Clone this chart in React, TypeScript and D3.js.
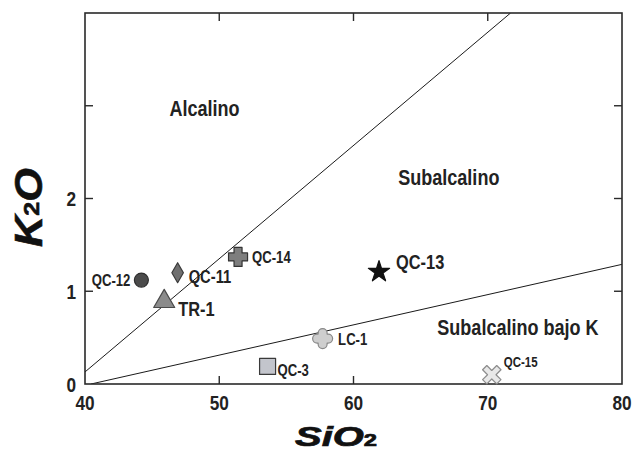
import React from "react";
import * as d3 from "d3";

// Samples: name, SiO2 (wt%), K2O (wt%)
const sampleNames = ["QC-12", "QC-11", "TR-1", "QC-14", "QC-13", "LC-1", "QC-3", "QC-15"];
const sio2Values = [44.2, 46.9, 45.9, 51.4, 61.9, 57.7, 53.6, 70.3];
const k2oValues = [1.12, 1.2, 0.89, 1.37, 1.21, 0.49, 0.19, 0.1];

// Field boundaries (SiO2, K2O)
const alkalineBoundary: [number, number][] = [[40, 0.13], [71.7, 4]];
const lowKBoundary: [number, number][] = [[40.45, 0], [80, 1.29]];

// Field names and where they sit (SiO2, K2O)
const fieldNames = ["Alcalino", "Subalcalino", "Subalcalino bajo K"];
const fieldSio2 = [48.9, 67.1, 72.25];
const fieldK2o = [2.98, 2.23, 0.615];

// Axis ticks
const xTicks = [40, 50, 60, 70, 80];
const yTicks = [0, 1, 2, 3];
const yTickLabels = ["0", "1", "2", ""];

const W = 633;
const H = 451;
const x = d3.scaleLinear().domain([40, 80]).range([85, 622]);
const y = d3.scaleLinear().domain([0, 4]).range([384, 13]);

const SANS = "'Liberation Sans', Arial, Helvetica, sans-serif";
const CONDENSE = 0.82;

type MarkStyle = {
  kind: string;
  fill: string;
  stroke: string;
  labelDx: number;
  labelDy: number;
  fontSize: number;
  anchor?: string;
};

const markStyles: Record<string, MarkStyle> = {
  "QC-12": { kind: "circle", fill: "#4b4b4b", stroke: "#2e2e2e", labelDx: -11, labelDy: 6, fontSize: 16, anchor: "end" },
  "QC-11": { kind: "diamond", fill: "#6f6f6f", stroke: "#3a3a3a", labelDx: 11, labelDy: 10, fontSize: 18 },
  "TR-1": { kind: "triangle", fill: "#8b8b8b", stroke: "#4a4a4a", labelDx: 14, labelDy: 15, fontSize: 20 },
  "QC-14": { kind: "plus", fill: "#7e7e7e", stroke: "#333", labelDx: 14, labelDy: 6, fontSize: 16 },
  "QC-13": { kind: "star", fill: "#111", stroke: "#111", labelDx: 17, labelDy: -3, fontSize: 20 },
  "LC-1": { kind: "roundPlus", fill: "#cecece", stroke: "#888", labelDx: 15.5, labelDy: 6, fontSize: 16 },
  "QC-3": { kind: "square", fill: "#c3c5cc", stroke: "#3a3a3a", labelDx: 10, labelDy: 10, fontSize: 16 },
  "QC-15": { kind: "x", fill: "#e8e8e8", stroke: "#8c8c8c", labelDx: 12, labelDy: -8, fontSize: 14 },
};

function plusPath(L: number, w: number): string {
  return `M${-w},${-L}H${w}V${-w}H${L}V${w}H${w}V${L}H${-w}V${w}H${-L}V${-w}H${-w}Z`;
}

function roundPlusPath(L: number, w: number): string {
  const e = L - w;
  return (
    `M${-w},${-e}A${w},${w} 0 0 1 ${w},${-e}L${w},${-w}L${e},${-w}` +
    `A${w},${w} 0 0 1 ${e},${w}L${w},${w}L${w},${e}` +
    `A${w},${w} 0 0 1 ${-w},${e}L${-w},${w}L${-e},${w}` +
    `A${w},${w} 0 0 1 ${-e},${-w}L${-w},${-w}Z`
  );
}

function markerPath(kind: string): string {
  switch (kind) {
    case "circle":
      return d3.symbol(d3.symbolCircle, 154)()!;
    case "diamond":
      return d3.symbol(d3.symbolDiamond, 115)()!;
    case "triangle":
      return d3.symbol(d3.symbolTriangle, 191)()!;
    case "star":
      return d3.symbol(d3.symbolStar, 140)()!;
    case "square":
      return d3.symbol(d3.symbolSquare, 256)()!;
    case "plus":
      return plusPath(9.5, 4);
    case "roundPlus":
      return roundPlusPath(10, 4.5);
    case "x":
      return plusPath(10, 3);
    default:
      return d3.symbol(d3.symbolCircle, 100)()!;
  }
}

// Bold, horizontally condensed label anchored at (px, py)
function CondensedText(props: {
  px: number;
  py: number;
  size: number;
  anchor?: string;
  dy?: string;
  children: React.ReactNode;
}) {
  return (
    <text
      transform={`translate(${props.px},${props.py}) scale(${CONDENSE},1)`}
      fontFamily={SANS}
      fontWeight="bold"
      fontSize={props.size}
      fill="#222"
      textAnchor={props.anchor ?? "start"}
      dy={props.dy}
    >
      {props.children}
    </text>
  );
}

export default function App() {
  const line = d3.line<[number, number]>().x((d) => x(d[0])).y((d) => y(d[1]));
  const [x0, x1] = x.range();
  const [yb, yt] = y.range();
  const tickLen = 8;

  return (
    <svg
      width={W}
      height={H}
      viewBox={`0 0 ${W} ${H}`}
      style={{ position: "absolute", left: 0, top: 0, background: "#fff" }}
    >
      <defs>
        <clipPath id="plotArea">
          <rect x={x0} y={yt} width={x1 - x0} height={yb - yt} />
        </clipPath>
      </defs>

      {/* field boundaries */}
      <g clipPath="url(#plotArea)" fill="none" stroke="#1a1a1a" strokeWidth={1}>
        <path d={line(alkalineBoundary)!} />
        <path d={line(lowKBoundary)!} />
      </g>

      {/* frame */}
      <rect x={x0} y={yt} width={x1 - x0} height={yb - yt} fill="none" stroke="#2a2a2a" strokeWidth={1.6} />

      {/* ticks on all four sides, pointing inward */}
      <g stroke="#2a2a2a" strokeWidth={1.4}>
        {xTicks.slice(1, -1).map((t) => (
          <g key={`xt${t}`}>
            <line x1={x(t)} x2={x(t)} y1={yb} y2={yb - tickLen} />
            <line x1={x(t)} x2={x(t)} y1={yt} y2={yt + tickLen} />
          </g>
        ))}
        {yTicks.slice(1).map((t) => (
          <g key={`yt${t}`}>
            <line x1={x0} x2={x0 + tickLen} y1={y(t)} y2={y(t)} />
            <line x1={x1} x2={x1 - tickLen} y1={y(t)} y2={y(t)} />
          </g>
        ))}
      </g>

      {/* tick labels */}
      {xTicks.map((t) => (
        <CondensedText key={`xl${t}`} px={x(t)} py={yb + 26} size={21} anchor="middle">
          {t}
        </CondensedText>
      ))}
      {yTicks.map((t, i) => (
        <CondensedText key={`yl${t}`} px={x0 - 9} py={y(t)} size={21} anchor="end" dy="0.36em">
          {yTickLabels[i]}
        </CondensedText>
      ))}

      {/* field names */}
      {fieldNames.map((n, i) => (
        <CondensedText key={n} px={x(fieldSio2[i])} py={y(fieldK2o[i])} size={22} anchor="middle" dy="0.36em">
          {n}
        </CondensedText>
      ))}

      {/* samples */}
      {sampleNames.map((name, i) => {
        const s = markStyles[name];
        const cx = x(sio2Values[i]);
        const cy = y(k2oValues[i]);
        const rot = s.kind === "x" ? " rotate(45)" : "";
        return (
          <g key={name}>
            <path
              d={markerPath(s.kind)}
              transform={`translate(${cx},${cy})${rot}`}
              fill={s.fill}
              stroke={s.stroke}
              strokeWidth={1.2}
              strokeLinejoin="round"
            />
            <CondensedText px={cx + s.labelDx} py={cy + s.labelDy} size={s.fontSize} anchor={s.anchor}>
              {name}
            </CondensedText>
          </g>
        );
      })}

      {/* axis titles */}
      <text
        x={336}
        y={446}
        textAnchor="middle"
        fontFamily={SANS}
        fontWeight="bold"
        fontStyle="italic"
        fontSize={27}
        fill="#111"
        stroke="#111"
        strokeWidth={0.7}
        textLength={82}
        lengthAdjust="spacingAndGlyphs"
      >
        SiO<tspan fontSize={16} fontStyle="normal">2</tspan>
      </text>
      <text
        transform="translate(42,207.5) rotate(-90)"
        textAnchor="middle"
        fontFamily={SANS}
        fontWeight="bold"
        fontStyle="italic"
        fontSize={38}
        fill="#111"
        stroke="#111"
        strokeWidth={0.6}
        textLength={79}
        lengthAdjust="spacingAndGlyphs"
      >
        K<tspan fontSize={22} fontStyle="normal" dy={-3}>2</tspan>
        <tspan dy={3}>O</tspan>
      </text>
    </svg>
  );
}
